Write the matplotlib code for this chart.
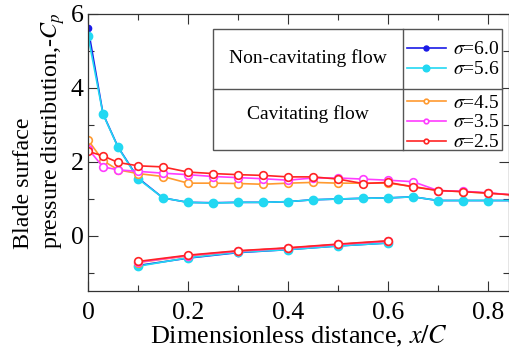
import matplotlib
matplotlib.use("Agg")
import matplotlib.pyplot as plt
from matplotlib.patches import Rectangle
from matplotlib.lines import Line2D
from matplotlib.ticker import MultipleLocator, FuncFormatter

plt.rcParams["font.family"] = ["Liberation Serif", "DejaVu Serif"]
plt.rcParams["mathtext.fontset"] = "stix"

# suction side (upper) stations
x_upper = [0.0, 0.03, 0.06, 0.1, 0.15, 0.2, 0.25, 0.3, 0.35, 0.4, 0.45,
           0.5, 0.55, 0.6, 0.65, 0.7, 0.75, 0.8, 0.85]
# pressure side (lower) stations
x_lower = [0.1, 0.2, 0.3, 0.4, 0.5, 0.6]

sigma_labels = ["6.0", "5.6", "4.5", "3.5", "2.5"]

cp_upper = {
    "6.0": [5.63, 3.30, 2.40, 1.56, 1.02, 0.90, 0.89, 0.90, 0.90, 0.92, 0.97,
            0.99, 1.01, 1.02, 1.05, 0.95, 0.95, 0.95, 0.95],
    "5.6": [5.41, 3.29, 2.39, 1.54, 1.02, 0.90, 0.88, 0.90, 0.90, 0.92, 0.97,
            0.99, 1.01, 1.02, 1.05, 0.95, 0.95, 0.95, 0.95],
    "4.5": [2.59, 2.03, 1.78, 1.68, 1.60, 1.42, 1.42, 1.41, 1.39, 1.42, 1.44,
            1.42, 1.42, 1.42, 1.33, 1.22, 1.19, 1.15, 1.10],
    "3.5": [2.35, 1.86, 1.78, 1.74, 1.69, 1.65, 1.60, 1.57, 1.54, 1.50, 1.56,
            1.56, 1.53, 1.50, 1.46, 1.22, 1.20, 1.16, 1.10],
    "2.5": [2.28, 2.16, 1.98, 1.89, 1.86, 1.72, 1.68, 1.65, 1.63, 1.59, 1.59,
            1.53, 1.41, 1.44, 1.32, 1.22, 1.19, 1.15, 1.10],
}

cp_lower = {
    "6.0": [-0.81, -0.61, -0.46, -0.38, -0.28, -0.20],
    "5.6": [-0.83, -0.60, -0.45, -0.38, -0.28, -0.20],
    "4.5": [-0.73, -0.55, -0.42, -0.34, -0.24, -0.15],
    "3.5": [-0.72, -0.54, -0.42, -0.34, -0.24, -0.15],
    "2.5": [-0.70, -0.53, -0.41, -0.33, -0.23, -0.14],
}

colors = {"6.0": "#1a1ae6", "5.6": "#22d8f2", "4.5": "#ff9a30",
          "3.5": "#ff3cff", "2.5": "#ff2424"}

fig = plt.figure(figsize=(5.09, 3.49), dpi=100)
ax = fig.add_axes([88 / 509, 58 / 349, 421 / 509, 277 / 349])

handles = {}
for s in sigma_labels:
    c = colors[s]
    if s in ("6.0", "5.6"):
        ms = 4.5 if s == "6.0" else 6
        style = dict(color=c, lw=1.2, marker="o", ms=ms, mfc=c, mec=c)
    else:
        style = dict(color=c, lw=1.2, marker="o", ms=5.5, mfc="white",
                     mec=c, mew=1.2)
    h, = ax.plot(x_upper, cp_upper[s], **style)
    ax.plot(x_lower, cp_lower[s], **style)
    handles[s] = h

ax.set_xlim(0, 0.842)
ax.set_ylim(-1.5, 6)
ax.xaxis.set_major_locator(MultipleLocator(0.2))
ax.xaxis.set_minor_locator(MultipleLocator(0.1))
ax.yaxis.set_major_locator(MultipleLocator(2))
ax.yaxis.set_minor_locator(MultipleLocator(1))
ax.xaxis.set_major_formatter(FuncFormatter(lambda v, p: "0" if abs(v) < 1e-9 else f"{v:.1f}"))
ax.yaxis.set_major_formatter(FuncFormatter(lambda v, p: f"{v:.0f}"))
ax.tick_params(which="both", direction="in", top=True, right=True,
               labelsize=18.5, width=0.8, color="#333333")
ax.tick_params(which="major", length=7)
ax.tick_params(which="minor", length=4)
ax.tick_params(axis="x", pad=8)
ax.tick_params(axis="y", pad=3)
for sp in ax.spines.values():
    sp.set_color("#333333")
    sp.set_linewidth(0.9)

ax.set_xlabel("Dimensionless distance, $x/C$", fontsize=18.8, labelpad=0)
ax.set_ylabel("Blade surface\npressure distribution,-$C_p$", fontsize=17.3,
              linespacing=1.3, multialignment="left")
ax.yaxis.set_label_coords(-0.05, 0.58)

# table-style legend
L, R, T, B = 213, 502, 29, 150
mid_x, mid_y = 403, 89


def fx(px):
    return (px - 88) / 421


def fy(py):
    return (291 - py) / 277


ax.add_patch(Rectangle((fx(L), fy(B)), fx(R) - fx(L), fy(T) - fy(B),
                       transform=ax.transAxes, facecolor="white",
                       edgecolor="#555555", lw=1.0, zorder=5, clip_on=False))
ax.add_line(Line2D([fx(L), fx(R)], [fy(mid_y), fy(mid_y)], transform=ax.transAxes,
                   color="#555555", lw=1.0, zorder=6, clip_on=False))
ax.add_line(Line2D([fx(mid_x), fx(mid_x)], [fy(T), fy(B)], transform=ax.transAxes,
                   color="#555555", lw=1.0, zorder=6, clip_on=False))
ax.text(fx((L + mid_x) / 2), fy(58), "Non-cavitating flow", transform=ax.transAxes,
        ha="center", va="center", fontsize=14, zorder=7)
ax.text(fx((L + mid_x) / 2), fy(114), "Cavitating flow", transform=ax.transAxes,
        ha="center", va="center", fontsize=14, zorder=7)

leg_kw = dict(loc="upper left", frameon=False, fontsize=14, handlelength=2.0,
              handletextpad=0.35, labelspacing=0.12, borderpad=0.2,
              borderaxespad=0)
leg1 = ax.legend([handles["6.0"], handles["5.6"]],
                 [f"$\\sigma$={s}" for s in ("6.0", "5.6")],
                 bbox_to_anchor=(fx(mid_x), fy(T + 8)), markerscale=0.8, **leg_kw)
leg1.set_zorder(8)
ax.add_artist(leg1)
leg2 = ax.legend([handles[s] for s in ("4.5", "3.5", "2.5")],
                 [f"$\\sigma$={s}" for s in ("4.5", "3.5", "2.5")],
                 bbox_to_anchor=(fx(mid_x), fy(mid_y + 1)), markerscale=0.6, **leg_kw)
leg2.set_zorder(8)

fig.savefig("out.png", dpi=100)
